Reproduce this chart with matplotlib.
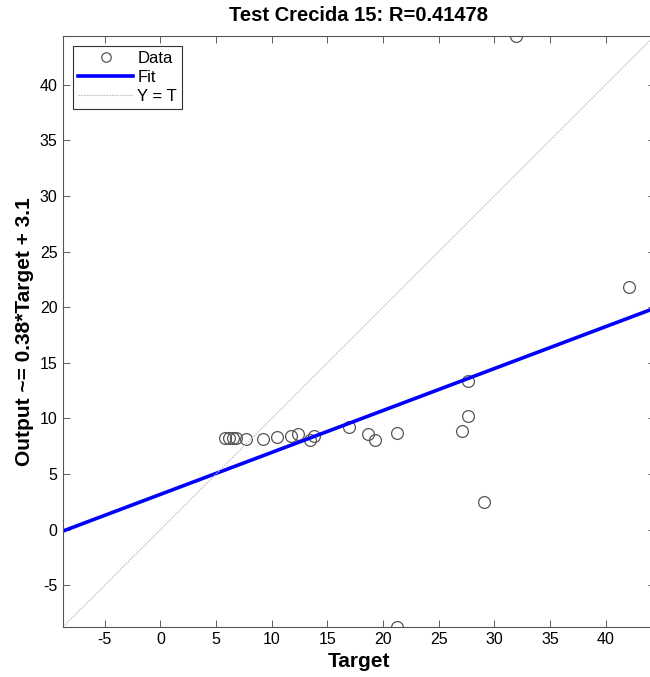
import numpy as np
import matplotlib.pyplot as plt

plt.rcParams['font.family'] = ['Liberation Sans', 'DejaVu Sans']
plt.rcParams['axes.unicode_minus'] = False

# Target / Output pairs
target = [5.84, 6.17, 6.53, 6.83, 7.67, 9.24, 10.5, 11.73, 12.4, 13.45, 13.8,
          16.94, 18.65, 19.3, 21.3, 27.08, 27.6, 27.65, 29.05, 42.06, 31.95, 21.3]
output = [8.26, 8.26, 8.26, 8.26, 8.17, 8.17, 8.29, 8.41, 8.56, 8.1, 8.38,
          9.22, 8.62, 8.1, 8.65, 8.86, 10.18, 13.36, 2.46, 21.8, 44.4, -8.75]
fit_coef = [0.377, 3.17]
title = 'Test Crecida 15: R=0.41478'

lo = min(min(target), min(output))
hi = max(max(target), max(output))
lim = [lo, hi]

fig = plt.figure(figsize=(6.5, 6.77), dpi=100)
ax = fig.add_axes([0.097, 0.074, 0.91, 0.873])

ax.plot(target, output, 'o', mfc='none', mec='#555555', ms=8.5, mew=0.9, label='Data')
xx = np.array(lim)
ax.plot(xx, np.polyval(fit_coef, xx), color='#0000ff', lw=2.6, label='Fit')
ax.plot(xx, xx, linestyle=(0, (1.5, 1)), color='#bdbdbd', lw=0.8, label='Y = T')

ax.set_xlim(lim)
ax.set_ylim(lim)
ax.set_xticks(np.arange(-5, 45, 5))
ax.set_yticks(np.arange(-5, 45, 5))
ax.tick_params(direction='in', top=True, right=True, length=5, width=0.6,
               labelsize=11.5, color='#444444', pad=4)
for s in ax.spines.values():
    s.set_color('#555555')
    s.set_linewidth(0.8)

ax.set_title(title, fontsize=14.5, fontweight='bold', pad=11)
ax.set_xlabel('Target', fontsize=15, fontweight='bold', labelpad=3)
ax.set_ylabel('Output ~= 0.38*Target + 3.1', fontsize=15, fontweight='bold', labelpad=4)

leg = ax.legend(loc='upper left', fontsize=12, fancybox=False, framealpha=1,
                edgecolor='#333333', handlelength=3.3, borderaxespad=0.6,
                labelspacing=0.25, handletextpad=0.25, borderpad=0.3,
                markerscale=0.8)
leg.get_frame().set_linewidth(0.8)

fig.savefig('out.png', dpi=100)
